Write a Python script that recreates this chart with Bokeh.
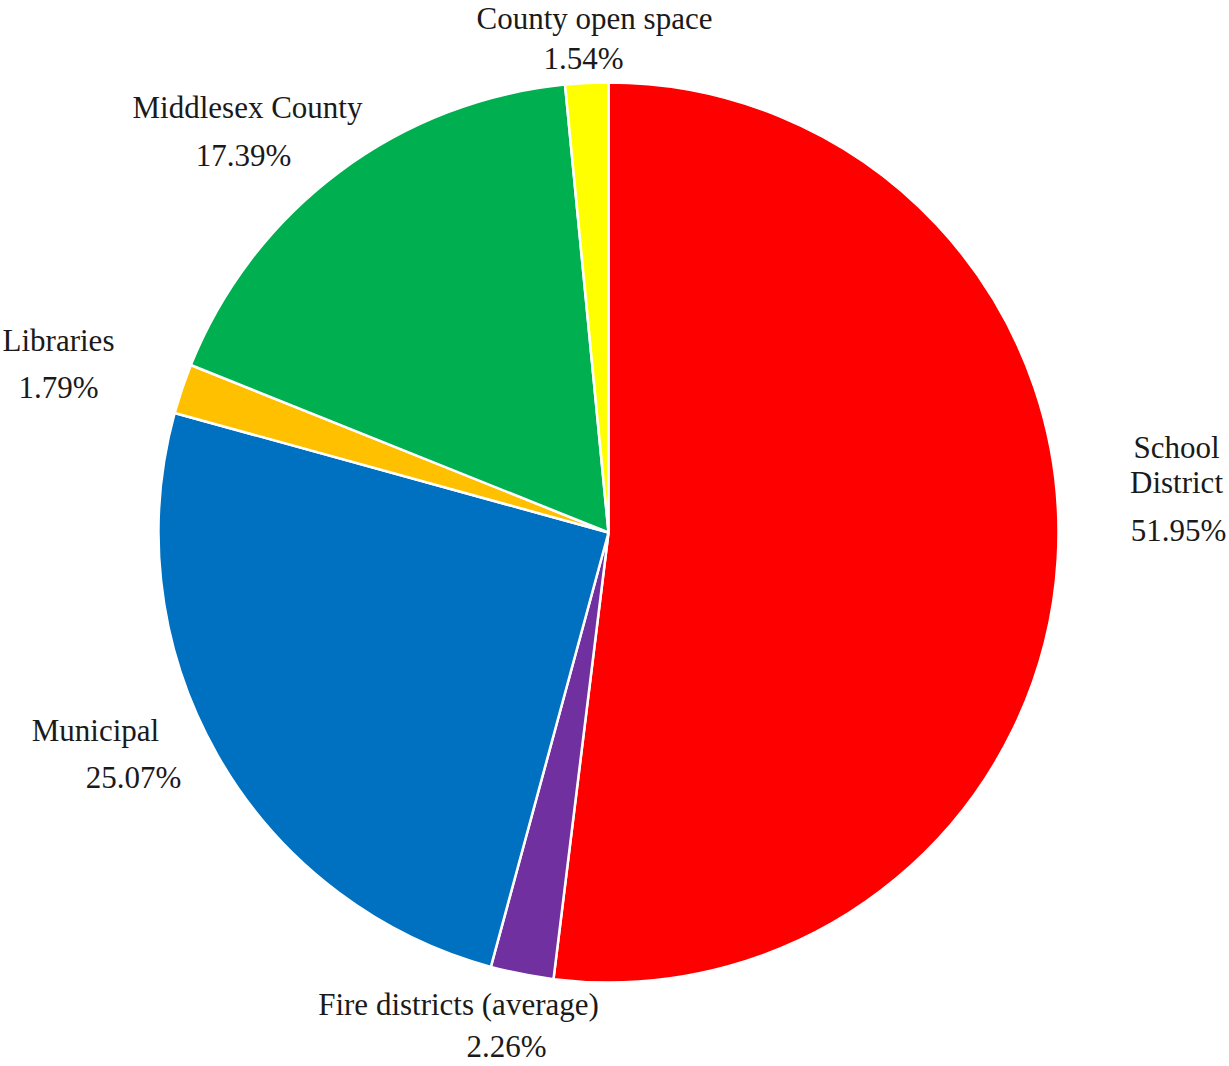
import math
from bokeh.plotting import figure
from bokeh.models import Range1d, ColumnDataSource
from bokeh.embed import file_html
from bokeh.resources import INLINE
from bokeh.core.properties import value

# ---- data (clockwise from 12 o'clock) ----
categories = ["School District", "Fire districts (average)", "Municipal",
              "Libraries", "Middlesex County", "County open space"]
shares = [51.95, 2.26, 25.07, 1.79, 17.39, 1.54]
colors = ["#FF0000", "#7030A0", "#0070C0", "#FFC000", "#00B050", "#FFFF00"]

# ---- layout (image pixel coordinates) ----
W, H = 1229, 1066
CX, CY, R = 608, 532, 450
FONT = "Liberation Serif"
FONT_SIZE = "31px"

# label lines: (text, x, y) per category
label_lines = {
    "School District": [("School", 1176, 447), ("District", 1176, 482), ("51.95%", 1178, 530)],
    "Fire districts (average)": [("Fire districts (average)", 458, 1004), ("2.26%", 506, 1046)],
    "Municipal": [("Municipal", 95, 730), ("25.07%", 133, 777)],
    "Libraries": [("Libraries", 58, 340), ("1.79%", 58, 387)],
    "Middlesex County": [("Middlesex County", 247, 107), ("17.39%", 243, 155)],
    "County open space": [("County open space", 594, 18), ("1.54%", 583, 58)],
}

total = sum(shares)
starts, ends = [], []
a = math.pi / 2
for s in shares:
    starts.append(a)
    a -= 2 * math.pi * s / total
    ends.append(a)

src = ColumnDataSource(dict(
    x=[CX] * len(shares), y=[H - CY] * len(shares),
    start=starts, end=ends, color=colors, cat=categories))

p = figure(width=W, height=H, output_backend="svg", toolbar_location=None,
           x_range=Range1d(0, W), y_range=Range1d(0, H),
           min_border=0, outline_line_color=None)
p.axis.visible = False
p.grid.visible = False
p.background_fill_color = "white"
p.border_fill_color = "white"

p.wedge(x="x", y="y", radius=R, start_angle="start", end_angle="end",
        direction="clock", fill_color="color", line_color="white", line_width=2.5,
        source=src)

tx, ty, tt = [], [], []
for c in categories:
    for (t, x, y) in label_lines[c]:
        tt.append(t)
        tx.append(x)
        ty.append(H - y)
p.text(x=tx, y=ty, text=tt, text_align="center", text_baseline="middle",
       text_font=value(FONT), text_font_size=FONT_SIZE, text_color="#1a1a1a")

open("out.html", "w").write(file_html(p, INLINE))
